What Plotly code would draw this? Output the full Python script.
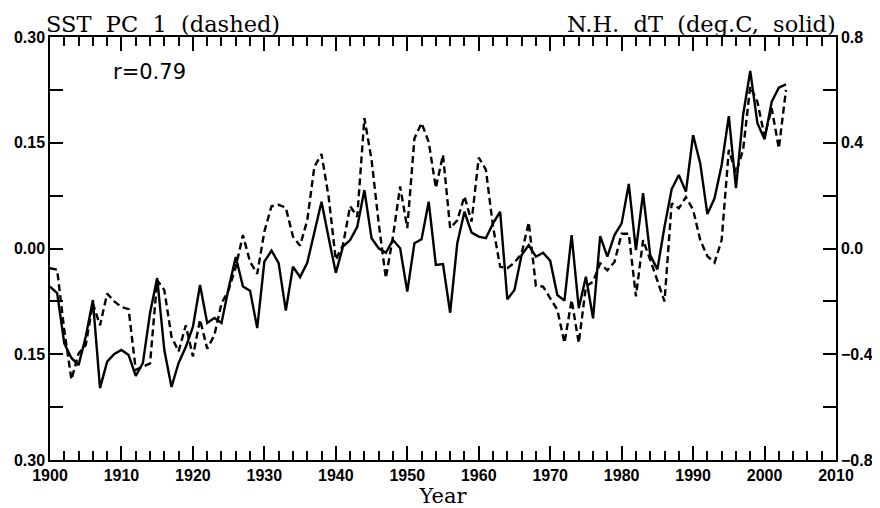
import plotly.graph_objects as go

years = list(range(1900, 2004))

# N.H. dT (deg.C), solid line, right axis
nh_dt = [
    -0.144, -0.169, -0.359, -0.414, -0.441, -0.334, -0.195, -0.528, -0.428, -0.399,
    -0.384, -0.403, -0.482, -0.433, -0.244, -0.112, -0.384, -0.524, -0.433, -0.373,
    -0.297, -0.138, -0.282, -0.263, -0.282, -0.149, -0.032, -0.144, -0.160, -0.301,
    -0.050, -0.008, -0.055, -0.235, -0.069, -0.108, -0.054, 0.064, 0.177, 0.040,
    -0.092, 0.007, 0.032, 0.082, 0.221, 0.039, 0.001, -0.016, 0.032, 0.001,
    -0.163, 0.020, 0.035, 0.177, -0.062, -0.059, -0.243, 0.020, 0.139, 0.060,
    0.045, 0.039, 0.095, 0.139, -0.192, -0.157, -0.025, 0.013, -0.031, -0.016,
    -0.046, -0.176, -0.197, 0.051, -0.226, -0.107, -0.264, 0.047, -0.031, 0.051,
    0.095, 0.244, -0.006, 0.209, -0.025, -0.079, 0.082, 0.224, 0.278, 0.215,
    0.429, 0.322, 0.130, 0.190, 0.316, 0.501, 0.228, 0.505, 0.672, 0.474,
    0.413, 0.555, 0.608, 0.621,
]

# SST PC 1, dashed line, left axis
sst_pc1 = [
    -0.028, -0.030, -0.116, -0.186, -0.149, -0.137, -0.078, -0.109, -0.064, -0.075,
    -0.083, -0.086, -0.172, -0.168, -0.163, -0.045, -0.059, -0.125, -0.146, -0.109,
    -0.153, -0.101, -0.142, -0.123, -0.078, -0.059, -0.026, 0.019, -0.019, -0.036,
    0.024, 0.060, 0.062, 0.058, 0.017, 0.004, 0.040, 0.116, 0.134, 0.073,
    -0.016, 0.005, 0.060, 0.045, 0.185, 0.126, 0.036, -0.042, 0.017, 0.088,
    0.029, 0.156, 0.178, 0.151, 0.086, 0.133, 0.029, 0.040, 0.074, 0.038,
    0.129, 0.112, 0.031, -0.026, -0.028, -0.020, -0.007, 0.037, -0.053, -0.054,
    -0.071, -0.087, -0.134, -0.073, -0.134, -0.054, -0.047, -0.021, -0.031, -0.019,
    0.021, 0.021, -0.068, 0.012, -0.016, -0.045, -0.075, 0.064, 0.057, 0.073,
    0.055, 0.012, -0.011, -0.020, 0.012, 0.140, 0.107, 0.140, 0.230, 0.208,
    0.159, 0.199, 0.142, 0.225,
]

# axis ranges and tick labels
x_range = [1900, 2010]
left_range = [-0.30, 0.30]
right_range = [-0.8, 0.8]
left_tickvals = [-0.30, -0.225, -0.15, -0.075, 0.00, 0.075, 0.15, 0.225, 0.30]
left_ticktext = ["0.30", "", "0.15", "", "0.00", "", "0.15", "", "0.30"]
right_tickvals = [-0.8, -0.6, -0.4, -0.2, 0.0, 0.2, 0.4, 0.6, 0.8]
right_ticktext = ["\u22120.8", "", "\u22120.4", "", "0.0", "", "0.4", "", "0.8"]

fig = go.Figure()
fig.add_trace(go.Scatter(x=years, y=sst_pc1, mode="lines", yaxis="y",
                         line=dict(color="black", width=2.4, dash="7px,4px"),
                         showlegend=False))
fig.add_trace(go.Scatter(x=years, y=nh_dt, mode="lines", yaxis="y2",
                         line=dict(color="black", width=2.4),
                         showlegend=False))

tickfont = dict(family="Liberation Sans, Arial", size=16, color="black", weight="bold")
serif = "DejaVu Serif"
nb = "\u00a0"

# the page places the figure 8px from the top-left corner, so the
# figure is 872x500 and positioned to fill the 880x508 window
fig.update_layout(
    width=872, height=500,
    margin=dict(l=42, r=44, t=29, b=48, autoexpand=False),
    paper_bgcolor="white", plot_bgcolor="white",
    xaxis=dict(
        range=x_range, tickmode="linear", tick0=1900, dtick=10,
        ticks="inside", ticklen=14, tickwidth=2, tickcolor="black",
        showline=True, linecolor="black", linewidth=1.5, mirror="ticks",
        showgrid=False, zeroline=False, automargin=False, tickfont=tickfont,
        minor=dict(tick0=1900, dtick=2, ticks="inside", ticklen=9, tickwidth=2,
                   tickcolor="black", showgrid=False),
        title=dict(text="Year", font=dict(family=serif, size=21, color="black"), standoff=8),
    ),
    yaxis=dict(
        range=left_range, tickmode="array", tickvals=left_tickvals, ticktext=left_ticktext,
        ticks="inside", ticklen=13, tickwidth=1.5, tickcolor="black",
        showline=True, linecolor="black", linewidth=1.5, showgrid=False,
        zeroline=False, tickfont=tickfont, automargin=False,
    ),
    yaxis2=dict(
        range=right_range, tickmode="array", tickvals=right_tickvals, ticktext=right_ticktext,
        overlaying="y", side="right",
        ticks="inside", ticklen=13, tickwidth=1.5, tickcolor="black",
        showline=True, linecolor="black", linewidth=1.5, showgrid=False,
        zeroline=False, tickfont=tickfont, automargin=False,
    ),
    annotations=[
        dict(text=f"SST{nb}{nb}PC{nb}{nb}1{nb}{nb}(dashed)", xref="paper", yref="paper",
             x=0, y=1, xanchor="left", yanchor="bottom", showarrow=False,
             xshift=-6, yshift=-2,
             font=dict(family=serif, size=22.5, color="black")),
        dict(text=f"N.H.{nb}{nb}dT{nb}{nb}(deg.C,{nb}{nb}solid)", xref="paper", yref="paper",
             x=1, y=1, xanchor="right", yanchor="bottom", showarrow=False,
             xshift=2, yshift=-2,
             font=dict(family=serif, size=22.5, color="black")),
        dict(text="r=0.79", xref="paper", yref="paper", x=0.077, y=0.917,
             xanchor="left", yanchor="middle", showarrow=False,
             font=dict(family="DejaVu Sans", size=21, color="black")),
    ],
)

fig.write_html("out.html")
